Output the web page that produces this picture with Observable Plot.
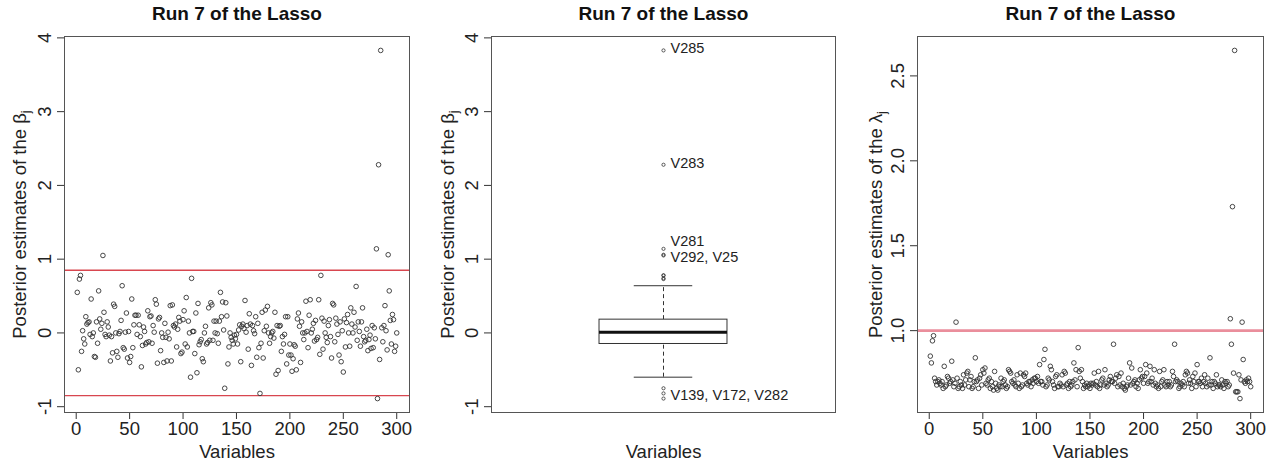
<!DOCTYPE html>
<html><head><meta charset="utf-8">
<script src="https://cdn.jsdelivr.net/npm/d3@7"></script>
<script src="https://cdn.jsdelivr.net/npm/@observablehq/plot@0.6"></script>
<style>
body{margin:0;background:#fff;}
#wrap{position:relative;width:1283px;height:466px;overflow:hidden;background:#fff;}
#wrap svg{position:absolute;top:0;}
</style></head><body><div id="wrap"></div>
<script>
// ---------- data ----------
const titleText = "Run 7 of the Lasso";
const xLabel = "Variables";
const betaLabel = "Posterior estimates of the β";
const lambdaLabel = "Posterior estimates of the λ";
const xTicks = [0, 50, 100, 150, 200, 250, 300];
const betaTicks = [-1, 0, 1, 2, 3, 4];
const lambdaTicks = [1.0, 1.5, 2.0, 2.5];
const betaThreshold = [-0.85, 0.85];
const lambdaThreshold = [1.0];

const beta = [
  0.55, -0.50, 0.73, 0.78, -0.25, 0.03, -0.08, -0.15, 0.22, 0.12,
  0.14, 0.15, -0.02, 0.46, -0.05, 0.00, -0.32, -0.33, 0.15, -0.14,
  0.57, 0.19, 0.05, 0.13, 1.05, 0.28, -0.02, -0.05, 0.15, 0.08,
  -0.03, -0.38, -0.05, -0.27, 0.39, 0.36, 0.00, -0.25, -0.33, -0.01,
  0.02, 0.17, 0.64, -0.20, -0.22, 0.01, 0.27, -0.34, 0.02, -0.40,
  -0.32, 0.46, -0.20, 0.11, 0.24, 0.24, -0.02, 0.24, 0.11, -0.05,
  -0.46, -0.17, 0.08, 0.02, -0.15, -0.13, 0.30, -0.12, 0.22, 0.23,
  -0.14, 0.10, 0.01, 0.45, 0.39, -0.41, 0.19, 0.21, -0.24, 0.00,
  -0.06, -0.40, 0.13, -0.06, -0.38, 0.01, -0.08, 0.37, -0.38, 0.38,
  0.10, 0.08, 0.12, -0.19, 0.05, 0.21, 0.16, -0.28, -0.26, 0.18,
  0.30, -0.15, 0.48, -0.19, 0.16, 0.00, -0.60, 0.74, 0.02, 0.02,
  -0.28, 0.27, -0.54, 0.40, -0.16, -0.12, -0.09, -0.35, -0.39, 0.00,
  0.09, -0.15, -0.13, 0.34, -0.10, 0.41, 0.38, -0.10, 0.16, 0.00,
  0.16, -0.01, -0.14, 0.16, 0.55, 0.22, 0.42, 0.04, -0.75, 0.41,
  0.23, -0.42, -0.19, 0.00, -0.06, -0.10, -0.15, -0.03, -0.08, -0.02,
  -0.15, 0.04, 0.11, -0.39, 0.09, 0.12, 0.06, 0.44, 0.01, 0.10,
  -0.22, 0.26, 0.12, -0.44, 0.10, 0.03, -0.01, 0.22, -0.33, 0.13,
  -0.20, -0.82, -0.14, 0.28, -0.34, 0.03, 0.31, 0.09, 0.36, 0.00,
  -0.14, -0.05, 0.00, 0.02, -0.07, 0.28, -0.56, 0.10, -0.51, 0.09,
  0.10, -0.25, -0.05, -0.15, -0.02, 0.22, -0.42, 0.22, -0.30, -0.15,
  -0.30, -0.52, -0.35, -0.16, -0.18, -0.50, 0.19, 0.27, 0.09, -0.40,
  0.15, 0.00, -0.09, 0.00, 0.43, 0.02, -0.20, 0.24, 0.45, 0.00,
  0.05, 0.13, -0.11, 0.17, -0.09, -0.06, 0.45, -0.29, 0.78, 0.20,
  -0.22, 0.16, 0.00, -0.06, -0.13, 0.10, 0.18, -0.05, -0.34, 0.40,
  0.38, -0.12, 0.20, 0.12, -0.02, -0.30, 0.15, -0.39, 0.03, -0.53,
  0.19, -0.19, 0.14, 0.25, 0.00, -0.18, 0.34, 0.12, 0.00, 0.28,
  0.08, 0.63, -0.10, 0.15, 0.02, -0.18, 0.15, 0.34, -0.05, -0.12,
  -0.10, 0.05, -0.24, -0.09, -0.03, -0.21, 0.10, -0.20, 0.07, -0.08,
  1.14, -0.89, 2.28, -0.36, 3.83, 0.07, -0.12, 0.10, 0.37, 0.03,
  -0.23, 1.06, 0.57, 0.17, -0.15, 0.25, 0.18, -0.25, -0.18, 0.00
];

const lambda = [
  0.85, 0.81, 0.94, 0.97, 0.72, 0.70, 0.68, 0.70, 0.71, 0.69,
  0.68, 0.70, 0.66, 0.79, 0.67, 0.68, 0.73, 0.72, 0.69, 0.70,
  0.82, 0.71, 0.67, 0.69, 1.05, 0.72, 0.66, 0.67, 0.70, 0.68,
  0.66, 0.74, 0.68, 0.71, 0.75, 0.76, 0.67, 0.71, 0.73, 0.66,
  0.67, 0.70, 0.84, 0.70, 0.71, 0.66, 0.72, 0.74, 0.68, 0.77,
  0.75, 0.78, 0.69, 0.68, 0.71, 0.72, 0.66, 0.70, 0.67, 0.65,
  0.76, 0.69, 0.66, 0.65, 0.68, 0.67, 0.72, 0.67, 0.70, 0.71,
  0.68, 0.66, 0.67, 0.77, 0.76, 0.75, 0.70, 0.69, 0.71, 0.68,
  0.67, 0.74, 0.69, 0.66, 0.75, 0.67, 0.68, 0.74, 0.73, 0.75,
  0.69, 0.68, 0.70, 0.70, 0.67, 0.71, 0.69, 0.72, 0.72, 0.70,
  0.73, 0.69, 0.80, 0.70, 0.70, 0.68, 0.83, 0.89, 0.67, 0.68,
  0.72, 0.71, 0.79, 0.77, 0.70, 0.68, 0.66, 0.73, 0.74, 0.67,
  0.67, 0.69, 0.68, 0.74, 0.67, 0.76, 0.75, 0.68, 0.69, 0.66,
  0.70, 0.67, 0.68, 0.70, 0.81, 0.71, 0.77, 0.67, 0.90, 0.76,
  0.72, 0.77, 0.70, 0.66, 0.68, 0.67, 0.69, 0.67, 0.68, 0.66,
  0.69, 0.68, 0.69, 0.75, 0.68, 0.70, 0.67, 0.76, 0.66, 0.68,
  0.71, 0.72, 0.68, 0.77, 0.69, 0.67, 0.68, 0.71, 0.73, 0.70,
  0.70, 0.92, 0.69, 0.72, 0.74, 0.67, 0.73, 0.68, 0.75, 0.67,
  0.69, 0.66, 0.65, 0.67, 0.68, 0.72, 0.81, 0.68, 0.78, 0.69,
  0.70, 0.71, 0.67, 0.69, 0.66, 0.71, 0.77, 0.72, 0.73, 0.69,
  0.73, 0.80, 0.75, 0.69, 0.70, 0.79, 0.70, 0.72, 0.68, 0.77,
  0.69, 0.67, 0.68, 0.66, 0.76, 0.67, 0.70, 0.71, 0.77, 0.68,
  0.67, 0.70, 0.68, 0.70, 0.67, 0.68, 0.76, 0.73, 0.92, 0.70,
  0.71, 0.70, 0.66, 0.67, 0.69, 0.68, 0.70, 0.67, 0.74, 0.76,
  0.75, 0.69, 0.71, 0.69, 0.66, 0.73, 0.70, 0.75, 0.67, 0.80,
  0.70, 0.70, 0.69, 0.72, 0.67, 0.70, 0.74, 0.69, 0.67, 0.72,
  0.68, 0.84, 0.68, 0.70, 0.66, 0.70, 0.69, 0.74, 0.67, 0.68,
  0.68, 0.67, 0.71, 0.68, 0.66, 0.70, 0.69, 0.70, 0.67, 0.68,
  1.07, 0.92, 1.73, 0.75, 2.65, 0.64, 0.64, 0.64, 0.74, 0.60,
  0.71, 1.05, 0.83, 0.70, 0.69, 0.71, 0.70, 0.72, 0.70, 0.67
];

const outlierLabels = ["V285", "V283", "V281", "V292, V25", "V139, V172, V282"];
const outlierLabelVars = [285, 283, 281, 292, 172];

// ---------- styling ----------
const FONT = "'Liberation Sans', Arial, Helvetica, sans-serif";
const FS = 18.5;
const INK = "#333";
const H = 466, MT = 36, MB = 54;
const labelDy = [-2, -1, -7, 3, 2];

const rExtend = ([lo, hi]) => [lo - 0.04 * (hi - lo), hi + 0.04 * (hi - lo)];
const fmt1 = d3.format(".1f");

function commonMarks(yTicks, yFmt, yLab, mL) {
  return [
    Plot.axisY(yTicks, {tickSize: 7, tickFormat: () => "", label: null, stroke: INK}),
    Plot.text(yTicks, {y: d => d, text: yFmt, frameAnchor: "left", rotate: -90,
      textAnchor: "middle", lineAnchor: "bottom", dx: -14, fontSize: FS, fill: "#222"}),
    Plot.text([yLab], {frameAnchor: "left", rotate: -90, textAnchor: "middle",
      lineAnchor: "bottom", dx: -(mL - 25), fontSize: FS, fill: "#222"}),
    Plot.text([titleText], {frameAnchor: "top", textAnchor: "middle", lineAnchor: "bottom",
      dy: -17, fontSize: 19, fontWeight: "bold", fill: "#111"}),
    Plot.text([xLabel], {frameAnchor: "bottom", textAnchor: "middle", lineAnchor: "bottom",
      dy: 45, fontSize: FS, fill: "#222"}),
    Plot.frame({stroke: "#555", strokeWidth: 1})
  ];
}

function scatterPanel({width, mL, mR, values, yTicks, yFmt, yLab, hlines, hColor, hWidth}) {
  const rows = values.map((v, i) => ({j: i + 1, v}));
  return Plot.plot({
    width, height: H, marginLeft: mL, marginRight: mR, marginTop: MT, marginBottom: MB,
    style: {fontFamily: FONT, fontSize: FS + "px", background: "white", color: "#222"},
    x: {domain: rExtend([1, values.length]), label: null},
    y: {domain: rExtend(d3.extent(values)), label: null},
    marks: [
      Plot.ruleY(hlines, {stroke: hColor, strokeWidth: hWidth}),
      Plot.dot(rows, {x: "j", y: "v", r: 2.3, stroke: INK, strokeWidth: 0.9, fill: "none"}),
      Plot.axisX(xTicks, {tickSize: 7, tickPadding: 2, fontSize: FS, label: null, stroke: INK, fill: "#222"}),
      ...commonMarks(yTicks, yFmt, yLab, mL)
    ]
  });
}

// panel 1
const p1 = scatterPanel({width: 428, mL: 64, mR: 19, values: beta, yTicks: betaTicks,
  yFmt: d => String(d), yLab: betaLabel, hlines: betaThreshold, hColor: "#d8464f", hWidth: 1.4});

// panel 2: boxplot
const sorted = beta.slice().sort(d3.ascending);
const q1 = d3.quantile(sorted, 0.25), med = d3.quantile(sorted, 0.5), q3 = d3.quantile(sorted, 0.75);
const iqr = q3 - q1;
const inside = sorted.filter(v => v >= q1 - 1.5 * iqr && v <= q3 + 1.5 * iqr);
const stats = [{pos: 1, q1, med, q3, lo: d3.min(inside), hi: d3.max(inside)}];
const outliers = beta.filter(v => v < q1 - 1.5 * iqr || v > q3 + 1.5 * iqr).map(v => ({pos: 1, v}));
const labelRows = outlierLabels.map((t, i) => ({pos: 1, v: beta[outlierLabelVars[i] - 1], t}));
const BH = 0.186, CH = 0.085;
const p2 = Plot.plot({
  width: 428, height: H, marginLeft: 63, marginRight: 21, marginTop: MT, marginBottom: MB,
  style: {fontFamily: FONT, fontSize: FS + "px", background: "white", color: "#222"},
  x: {domain: [0.5, 1.5], axis: null},
  y: {domain: rExtend(d3.extent(beta)), label: null},
  marks: [
    Plot.ruleX(stats, {x: "pos", y1: "q3", y2: "hi", stroke: INK, strokeDasharray: "4,3"}),
    Plot.ruleX(stats, {x: "pos", y1: "lo", y2: "q1", stroke: INK, strokeDasharray: "4,3"}),
    Plot.ruleY(stats, {y: "hi", x1: d => d.pos - CH, x2: d => d.pos + CH, stroke: INK}),
    Plot.ruleY(stats, {y: "lo", x1: d => d.pos - CH, x2: d => d.pos + CH, stroke: INK}),
    Plot.rect(stats, {x1: d => d.pos - BH, x2: d => d.pos + BH, y1: "q1", y2: "q3", fill: "white", stroke: INK}),
    Plot.ruleY(stats, {y: "med", x1: d => d.pos - BH, x2: d => d.pos + BH, stroke: "#111", strokeWidth: 3}),
    Plot.dot(outliers, {x: "pos", y: "v", r: 1.6, stroke: INK, strokeWidth: 0.8, fill: "none"}),
    ...labelRows.map((row, i) => Plot.text([row], {x: "pos", y: "v", text: "t", dx: 7, dy: labelDy[i],
      textAnchor: "start", lineAnchor: "middle", fontSize: 14.5, fill: "#222"})),
    ...commonMarks(betaTicks, d => String(d), betaLabel, 63)
  ]
});

// panel 3
const p3 = scatterPanel({width: 427, mL: 61, mR: 20, values: lambda, yTicks: lambdaTicks,
  yFmt: fmt1, yLab: lambdaLabel, hlines: lambdaThreshold, hColor: "#ea8e9c", hWidth: 2.6});

const wrap = document.getElementById("wrap");
[[p1, 0], [p2, 428], [p3, 856]].forEach(([svg, left]) => {
  svg.style.left = left + "px";
  wrap.appendChild(svg);
  svg.querySelectorAll("text").forEach(t => {
    const s = t.textContent;
    if (s === betaLabel || s === lambdaLabel) {
      const ts = document.createElementNS("http://www.w3.org/2000/svg", "tspan");
      ts.setAttribute("dy", "0.35em");
      ts.setAttribute("font-size", "13");
      ts.textContent = "j";
      t.appendChild(ts);
    }
  });
});
</script>
</body></html>
